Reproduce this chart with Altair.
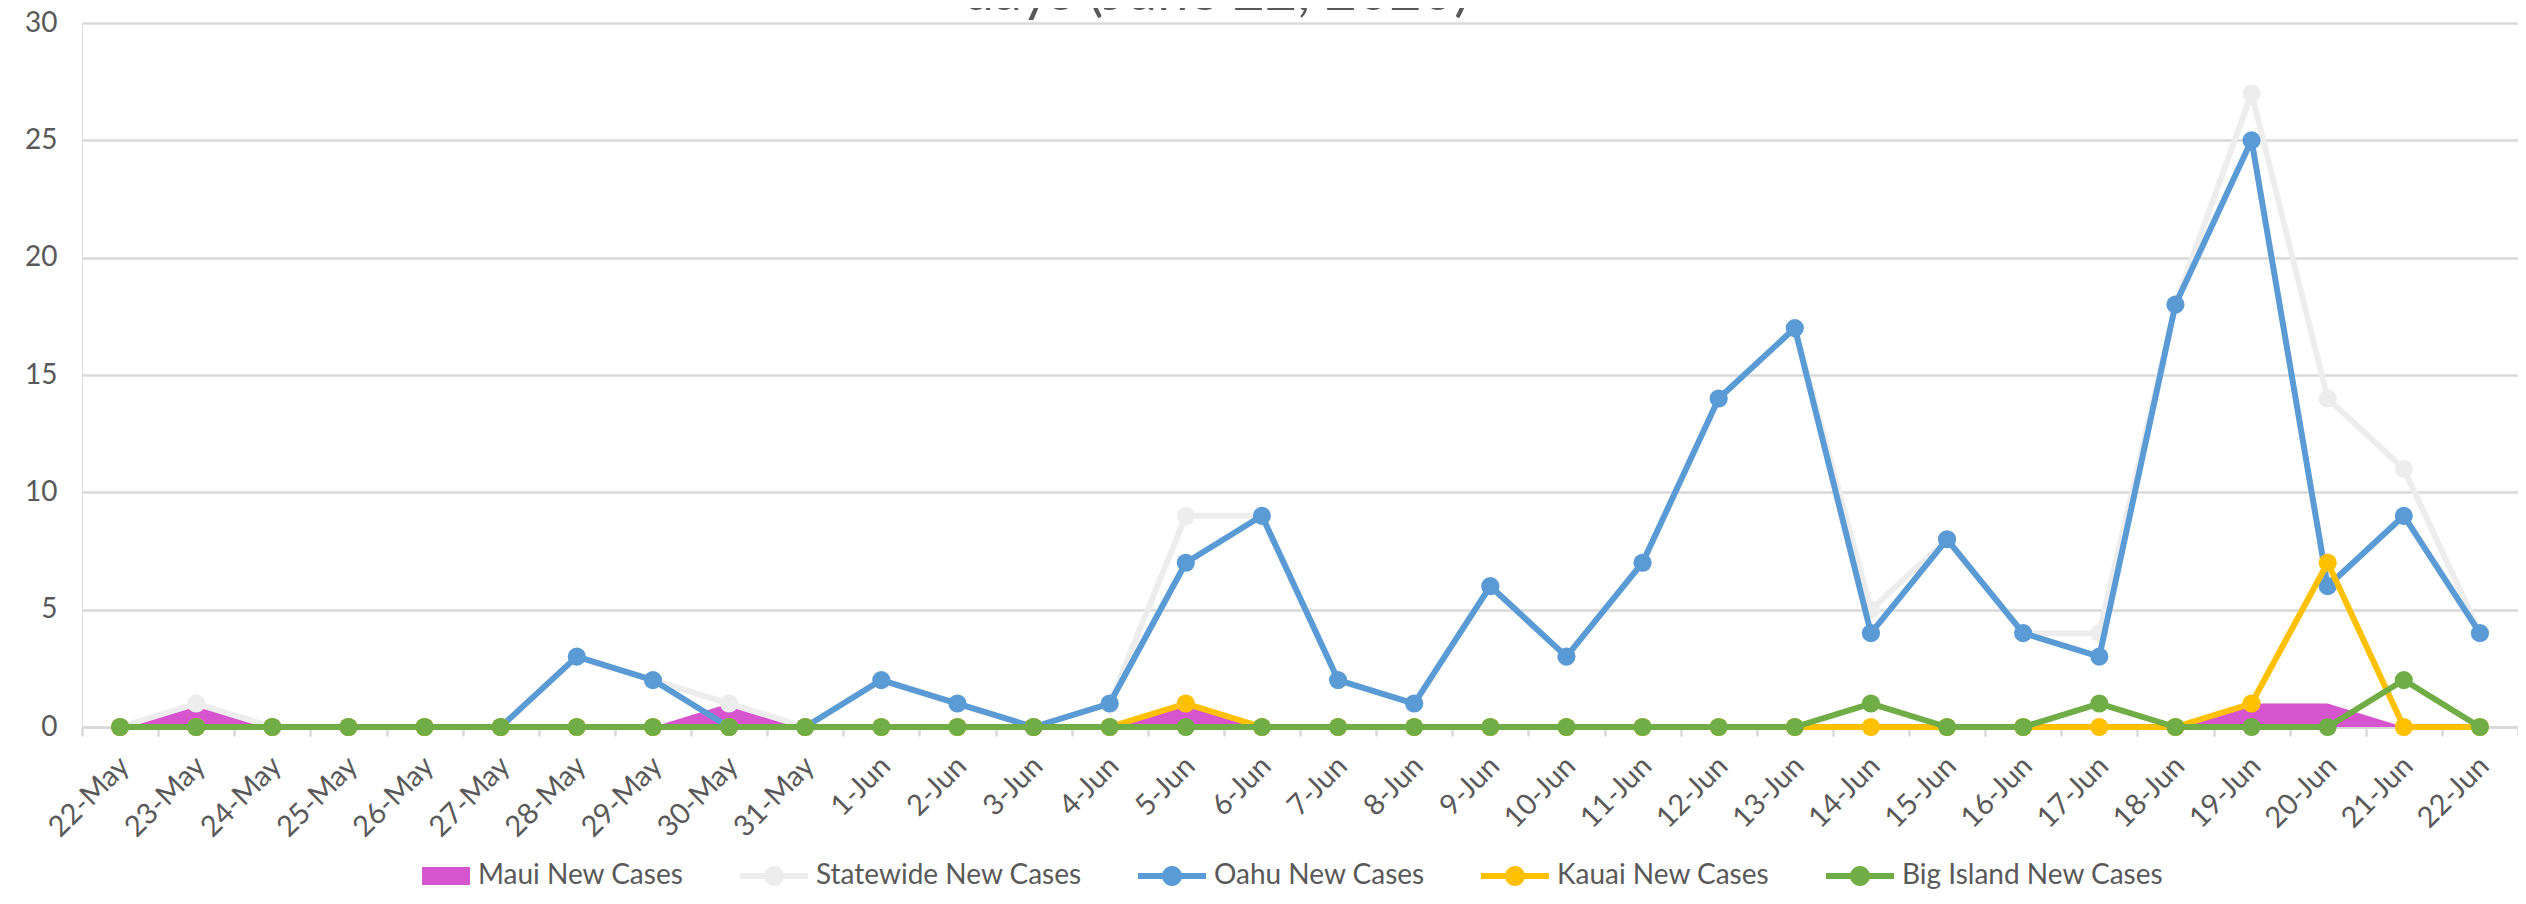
import json
import altair as alt
import pandas as pd

# ---------------- data ----------------
dates = ["22-May", "23-May", "24-May", "25-May", "26-May", "27-May", "28-May",
         "29-May", "30-May", "31-May", "1-Jun", "2-Jun", "3-Jun", "4-Jun",
         "5-Jun", "6-Jun", "7-Jun", "8-Jun", "9-Jun", "10-Jun", "11-Jun",
         "12-Jun", "13-Jun", "14-Jun", "15-Jun", "16-Jun", "17-Jun", "18-Jun",
         "19-Jun", "20-Jun", "21-Jun", "22-Jun"]

maui = [0, 1, 0, 0, 0, 0, 0, 0, 1, 0, 0, 0, 0, 0, 1, 0,
        0, 0, 0, 0, 0, 0, 0, 0, 0, 0, 0, 0, 1, 1, 0, 0]
statewide = [0, 1, 0, 0, 0, 0, 3, 2, 1, 0, 2, 1, 0, 1, 9, 9,
             2, 1, 6, 3, 7, 14, 17, 5, 8, 4, 4, 18, 27, 14, 11, 4]
oahu = [0, 0, 0, 0, 0, 0, 3, 2, 0, 0, 2, 1, 0, 1, 7, 9,
        2, 1, 6, 3, 7, 14, 17, 4, 8, 4, 3, 18, 25, 6, 9, 4]
kauai = [0, 0, 0, 0, 0, 0, 0, 0, 0, 0, 0, 0, 0, 0, 1, 0,
         0, 0, 0, 0, 0, 0, 0, 0, 0, 0, 0, 0, 1, 7, 0, 0]
big_island = [0, 0, 0, 0, 0, 0, 0, 0, 0, 0, 0, 0, 0, 0, 0, 0,
              0, 0, 0, 0, 0, 0, 0, 1, 0, 0, 1, 0, 0, 0, 2, 0]

series_names = ["Maui New Cases", "Statewide New Cases", "Oahu New Cases",
                "Kauai New Cases", "Big Island New Cases"]
series_colors = ["#D655CE", "#EDEDED", "#5B9BD5", "#FFC000", "#70AD47"]
series_values = [maui, statewide, oahu, kauai, big_island]
y_ticks = [0, 5, 10, 15, 20, 25, 30]
title_text = "days (June 22, 2020)"

rows = []
for name, vals in zip(series_names, series_values):
    for i, (d, v) in enumerate(zip(dates, vals)):
        rows.append({"i": i, "date": d, "value": v, "series": name})
df = pd.DataFrame(rows)

# ---------------- styling ----------------
FONT = "Lato"
TXT = "#595959"
GRID = "#D9D9D9"

n = len(dates)
xvals = [k / 2 for k in range(-1, 2 * n)]
label_expr = "datum.value % 1 === 0 ? " + json.dumps(dates) + "[datum.value] : ''"

x_axis = alt.Axis(
    values=xvals, labelExpr=label_expr, labelAngle=-45, labelAlign="right",
    labelBaseline="middle", labelFont=FONT, labelFontSize=29, labelColor=TXT,
    labelPadding=25, labelOffset=4, labelOverlap=False, labelFlush=False,
    labelLimit=0,
    tickSize=9, tickColor=GRID, tickWidth=2.5,
    tickOpacity={"condition": {"test": "datum.value % 1 === 0", "value": 0}, "value": 1},
    domainColor=GRID, domainWidth=2.5, grid=False, title=None,
)
y_axis = alt.Axis(
    values=y_ticks, labelFont=FONT, labelFontSize=28, labelColor=TXT,
    labelPadding=25, ticks=False, tickSize=0, domain=False, grid=True,
    gridColor=GRID, gridWidth=2.5, title=None,
)

X = alt.X("i:Q", scale=alt.Scale(domain=[-0.5, n - 0.5], nice=False, zero=False), axis=x_axis)
Y = alt.Y("value:Q", scale=alt.Scale(domain=[0, 30], nice=False), axis=y_axis)

def sub(name):
    return df[df["series"] == name]

area = alt.Chart(sub(series_names[0])).mark_area(color=series_colors[0]).encode(x=X, y=Y)

def line_layer(idx):
    c = series_colors[idx]
    return alt.Chart(sub(series_names[idx])).mark_line(
        color=c, strokeWidth=6, strokeJoin="round", strokeCap="round",
        point=alt.OverlayMarkDef(filled=True, size=330, color=c, opacity=1),
    ).encode(x=X, y=Y)

# legend symbols (custom paths): rectangle for area, line+dot for lines
rect_path = "M-0.41,-0.265 L1,-0.265 L1,0.265 L-0.41,0.265 Z"
line_dot = ("M-1,-0.088 L1,-0.088 L1,0.088 L-1,0.088 Z "
            "M0.294,0 A0.294,0.294 0 1 1 -0.294,0 A0.294,0.294 0 1 1 0.294,0 Z")
shape_range = [rect_path, line_dot, line_dot, line_dot, line_dot]

legend = alt.Legend(
    orient="none", legendX=320, legendY=819, direction="horizontal", title=None,
    labelFont=FONT, labelFontSize=28, labelColor=TXT, labelLimit=0,
    symbolSize=4624, symbolStrokeWidth=0, symbolOpacity=1, labelOffset=8,
    columnPadding=56, padding=0,
)

legend_layer = alt.Chart(df).mark_point(filled=True).encode(
    x=X, y=Y,
    color=alt.Color("series:N", scale=alt.Scale(domain=series_names, range=series_colors), legend=legend),
    shape=alt.Shape("series:N", scale=alt.Scale(domain=series_names, range=shape_range), legend=legend),
).transform_filter("false")

title_layer = alt.Chart(pd.DataFrame({"t": [title_text]})).mark_text(
    font=FONT, fontSize=56, color=TXT, align="center", baseline="alphabetic",
).encode(text="t:N", x=alt.value(1134), y=alt.value(-13))

chart = alt.layer(
    area, line_layer(1), line_layer(2), line_layer(3), line_layer(4),
    legend_layer, title_layer,
).properties(
    width=2436, height=704,
    padding={"left": 74, "top": 15, "right": 0, "bottom": 165},
    autosize=alt.AutoSizeParams(type="none"),
).configure_view(stroke=None).configure(background="white")

chart.save("out.html", embed_options={"renderer": "svg", "actions": False})
